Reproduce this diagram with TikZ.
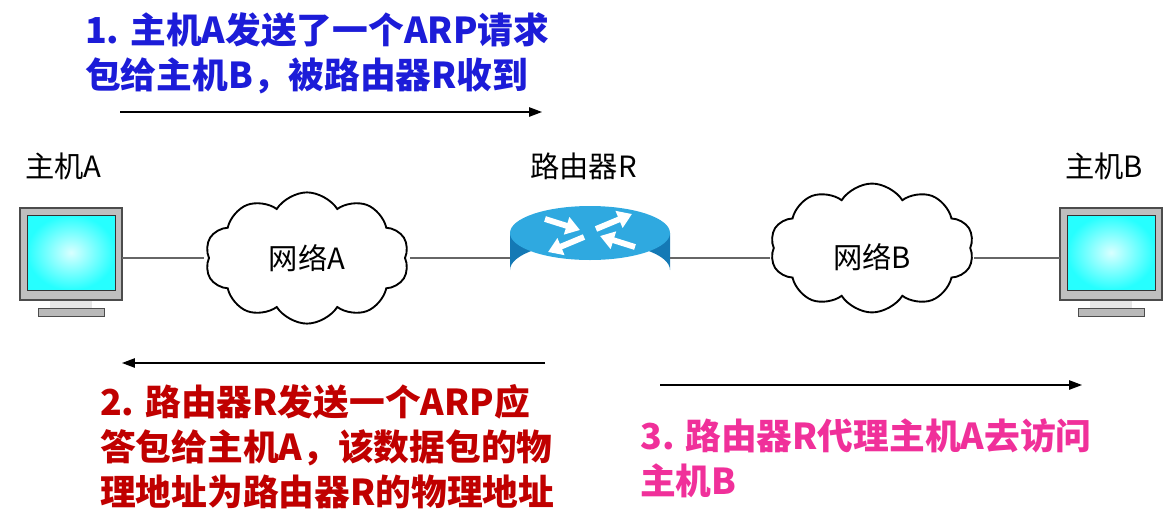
\documentclass[tikz,border=0pt]{standalone}
\usepackage{fontspec}
\setmainfont{Noto Sans CJK SC}
\usetikzlibrary{shapes.symbols,arrows.meta}
\definecolor{bluet}{HTML}{1C1CD8}
\definecolor{redt}{HTML}{C00000}
\definecolor{pinkt}{HTML}{F0309A}
\definecolor{rtop}{HTML}{2FA9E0}
\definecolor{rside}{HTML}{1479B5}
\tikzset{
  lbl/.style={font=\fontsize{25}{30}\selectfont, anchor=west, inner sep=0},
  ttl/.style={font=\fontsize{30.5}{38.5}\selectfont\bfseries, anchor=north west, align=left, inner sep=0},
  arr/.style={-{Triangle[length=11pt,width=8pt]}, line width=1.1pt},
  link/.style={draw=gray!80!black, line width=1.2pt},
  cl/.style={cloud, cloud puffs=10, cloud puff arc=115, draw, line width=1.6pt, inner sep=0, font=\fontsize{25}{30}\selectfont},
}
\begin{document}
\begin{tikzpicture}[x=0.03cm,y=-0.03cm]
\useasboundingbox (0,0) rectangle (1174,525);
% titles
\node[ttl,text=bluet] (t1) at (85,12) {1. 主机A发送了一个ARP请求\\包给主机B，被路由器R收到};
\coordinate (a1s) at (120,112); \coordinate (a1e) at (542,112);
\draw[arr] (a1s) -- (a1e);
\node[lbl] (la) at (25,166) {主机A};
\node[lbl] (lr) at (530,166) {路由器R};
\node[lbl] (lb) at (1065,166) {主机B};
% monitors
\foreach \n/\x in {ma/20,mb/1060}{
  \fill[gray!20] (\x+30,300) rectangle (\x+72,308);
  \fill[gray!55] (\x+18,308) rectangle (\x+84,316);
  \draw[gray!60!black] (\x+18,308) rectangle (\x+84,316);
  \fill[gray!50] (\x,208) rectangle (\x+102,300);
  \draw[gray!60!black,line width=1pt] (\x,208) rectangle (\x+102,300);
  \shade[inner color=white!85!cyan, outer color=cyan!85!white] (\x+7,215) rectangle (\x+95,290);
  \draw[gray!40!black] (\x+7,215) rectangle (\x+95,290);
  \coordinate (\n) at (\x+51,258);
}
\coordinate (maR) at (122,258); \coordinate (mbL) at (1060,258);
% clouds
\node[cl, minimum width=174pt, minimum height=112pt] (ca) at (307,258) {};
\node[cl, minimum width=174pt, minimum height=110pt] (cb) at (872,248) {};
\node[font=\fontsize{25}{30}\selectfont] at (ca) {网络A};
\node[font=\fontsize{25}{30}\selectfont] at ([yshift=-8]cb) {网络B};
% router
\coordinate (rt) at (590,233);
\fill[rside] (510,233) -- (510,270) arc[start angle=180,end angle=360,x radius=80,y radius=28] -- (670,233) -- cycle;
\fill[rtop] (rt) ellipse [x radius=80, y radius=27];
\begin{scope}[white, line width=5pt, -{Triangle[length=12pt,width=15pt]}]
\draw (545,219) -- (580,230);
\draw (635,247) -- (600,236);
\draw (596,229) -- (632,214);
\draw (584,237) -- (548,252);
\end{scope}
\coordinate (rL) at (510,258); \coordinate (rR) at (670,258);
\coordinate (caW) at (204,258); \coordinate (caE) at (410,258);
\coordinate (cbW) at (770,258); \coordinate (cbE) at (974,258);
% links
\draw[link] (maR) -- (caW);
\draw[link] (caE) -- (rL);
\draw[link] (rR) -- (cbW);
\draw[link] (cbE) -- (mbL);
% arrow 2
\coordinate (a2s) at (545,363); \coordinate (a2e) at (122,363);
\draw[arr] (a2s) -- (a2e);
\node[ttl,text=redt] (t2) at (100,384) {2. 路由器R发送一个ARP应\\答包给主机A，该数据包的物\\理地址为路由器R的物理地址};
% arrow 3
\coordinate (a3s) at (660,385); \coordinate (a3e) at (1082,385);
\draw[arr] (a3s) -- (a3e);
\node[ttl,text=pinkt] (t3) at (640,418) {3. 路由器R代理主机A去访问\\主机B};
\end{tikzpicture}
\end{document}
